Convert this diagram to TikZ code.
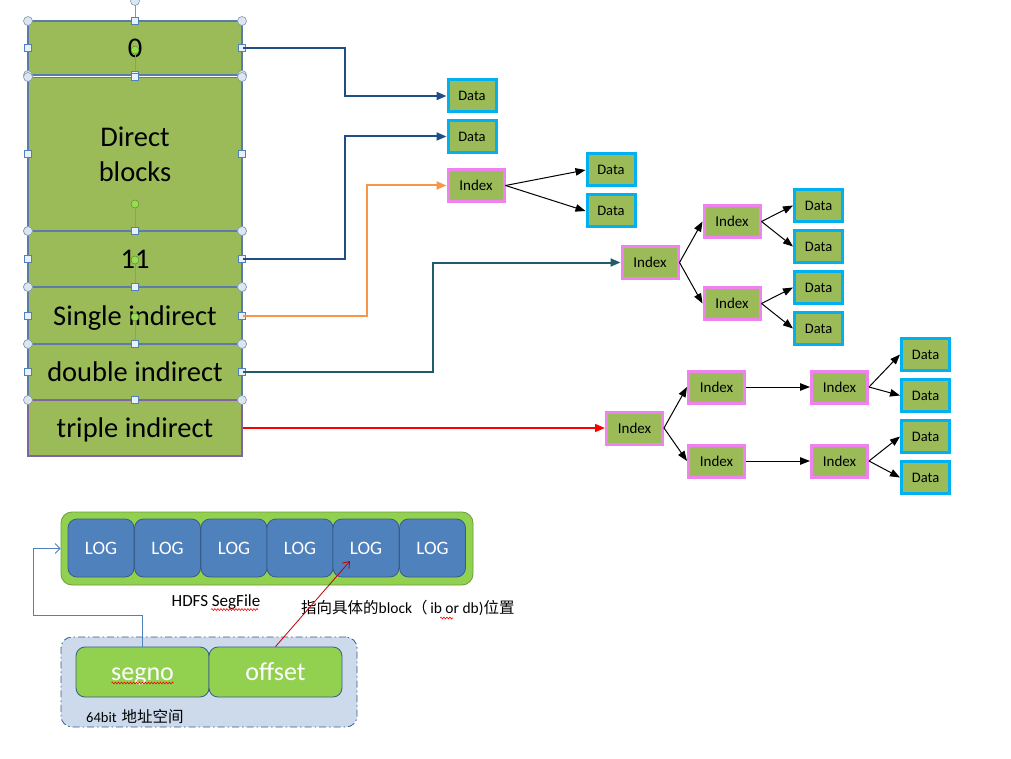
\documentclass[tikz,border=0pt]{standalone}
\usepackage{fontspec}
\setmainfont{Carlito}
\newfontfamily\cjk{Noto Sans CJK SC}
\usetikzlibrary{arrows.meta,decorations.pathmorphing}
\definecolor{cOlive}{HTML}{9BBB59}
\definecolor{cRowB}{HTML}{5B7BA9}
\definecolor{cPurple}{HTML}{8064A2}
\definecolor{cCyan}{HTML}{00B0F0}
\definecolor{cPink}{HTML}{EE82EE}
\definecolor{cDkBlue}{HTML}{1F4E87}
\definecolor{cTeal}{HTML}{215A69}
\definecolor{cOrange}{HTML}{F79646}
\definecolor{cLime}{HTML}{92D050}
\definecolor{cLogBlue}{HTML}{4F81BD}
\definecolor{cLogBorder}{HTML}{385D8A}
\definecolor{cPale}{HTML}{CCDAEC}
\definecolor{cDkRed}{HTML}{C00000}
\definecolor{cHdl}{HTML}{DCE6F2}
\definecolor{cHdlB}{HTML}{8497B0}
\definecolor{cGreenDot}{HTML}{8FE04A}
\begin{document}
\begin{tikzpicture}[x=1pt,y=-1pt,
  row/.style={draw=cRowB, line width=1.8pt, fill=cOlive, minimum width=214pt, inner sep=0pt,
    font=\fontsize{28.5}{35}\selectfont, align=center},
  rowtext/.style={text height=25pt, text depth=6pt},
  databox/.style={draw=cCyan, line width=3pt, fill=cOlive, minimum width=48pt, minimum height=32pt,
    inner sep=0pt, font=\fontsize{14.5}{16}\selectfont},
  idxbox/.style={databox, draw=cPink, minimum width=56pt, font=\fontsize{15}{16}\selectfont},
  arr/.style={-{Triangle[length=10pt,width=7.5pt]}, line width=1pt, black},
  conn/.style={-{Triangle[length=10pt,width=8pt]}, line width=2pt},
  logbox/.style={draw=cLogBorder, line width=0.8pt, fill=cLogBlue, rounded corners=9pt,
    minimum width=66pt, minimum height=58pt, inner sep=0pt, text=white, font=\fontsize{19}{22}\selectfont},
  fieldbox/.style={draw=cLogBorder, line width=0.8pt, fill=cLime, rounded corners=9pt,
    minimum width=133pt, minimum height=50pt, inner sep=0pt, text=white, font=\fontsize{26}{28}\selectfont,
    text height=20pt, text depth=4pt},
  squig/.style={draw=red, line width=0.6pt, decorate, decoration={snake, amplitude=0.9pt, segment length=3pt}},
  hc/.style={fill=cHdl, draw=cHdlB, line width=0.6pt},
  hs/.style={fill=cHdl!60!white, draw=cLogBlue, line width=0.6pt},
]
\useasboundingbox (0,0) rectangle (1011,759);
\fill[white] (0,0) rectangle (1011,759);

% ---- left stack ----
\node[row, rowtext, minimum height=54pt] (r0) at (135,48) {0};
\node[row, minimum height=154pt] (rdb) at (135,154.5) {Direct\\blocks};
\node[row, rowtext, minimum height=56pt] (r11) at (135,259) {11};
\node[row, rowtext, minimum height=57pt] (rsi) at (135,315.5) {Single indirect};
\node[row, rowtext, minimum height=56pt] (rdi) at (135,372) {double indirect};
\node[row, rowtext, draw=cPurple, minimum height=56pt] (rti) at (135,428) {triple indirect};

% ---- selection handles ----
\draw[cHdlB, line width=0.8pt] (135,21) -- (135,2);
\filldraw[hc] (135,1) circle (4.5pt);
\foreach \t/\b in {77/231, 231/287, 287/344, 344/400} {
  \draw[cHdlB, line width=0.8pt] (135,\t) -- (135,{\t-27});
  \filldraw[fill=cGreenDot, draw=cOlive!70!black, line width=0.5pt] (135,{\t-27}) circle (4pt);
}
\foreach \t/\b in {21/75, 77/231, 231/287, 287/344, 344/400} {
  \foreach \x in {28,242} {
    \filldraw[hc] (\x,\t) circle (4.5pt);
    \filldraw[hc] (\x,\b) circle (4.5pt);
    \filldraw[hs] ({\x-3.5},{(\t+\b)/2-3.5}) rectangle ++(7,7);
  }
  \filldraw[hs] (131.5,{\t-3.5}) rectangle ++(7,7);
  \filldraw[hs] (131.5,{\b-3.5}) rectangle ++(7,7);
}

% ---- direct / single ----
\node[databox] (d1) at (472,96) {Data};
\node[databox] (d2) at (472,136.5) {Data};
\node[idxbox] (i1) at (476,185.5) {Index};
\node[databox] (d3) at (611,170) {Data};
\node[databox] (d4) at (611,211) {Data};

% ---- double ----
\node[idxbox] (i2) at (650,262.5) {Index};
\node[idxbox] (i2a) at (732,221.5) {Index};
\node[idxbox] (i2b) at (732,303.5) {Index};
\node[databox] (d5) at (818.5,205.5) {Data};
\node[databox] (d6) at (818.5,246.5) {Data};
\node[databox] (d7) at (818.5,287.5) {Data};
\node[databox] (d8) at (818.5,328.5) {Data};

% ---- triple ----
\node[idxbox] (it) at (634.5,428) {Index};
\node[idxbox] (ita) at (716.5,387) {Index};
\node[idxbox] (itb) at (716.5,461) {Index};
\node[idxbox] (ita2) at (839.5,387) {Index};
\node[idxbox] (itb2) at (839.5,461) {Index};
\node[databox] (d9) at (925.5,354.5) {Data};
\node[databox] (d10) at (925.5,395.5) {Data};
\node[databox] (d11) at (925.5,436.5) {Data};
\node[databox] (d12) at (925.5,477.5) {Data};

% ---- connectors from stack ----
\draw[conn, cDkBlue] (r0.east) -- ++(102,0) |- (d1.west);
\draw[conn, cDkBlue] (r11.east) -- ++(102,0) |- (d2.west);
\draw[conn, cOrange] (rsi.east) -- ++(124,0) |- (i1.west);
\draw[conn, cTeal] (rdi.east) -- ++(190,0) |- (i2.west);
\draw[conn, red, line width=1.5pt] (rti.east) -- (it.west);

% ---- tree arrows ----
\draw[arr] (i1.east) -- (d3.west);
\draw[arr] (i1.east) -- (d4.west);
\draw[arr] (i2.east) -- (i2a.west);
\draw[arr] (i2.east) -- (i2b.west);
\draw[arr] (i2a.east) -- (d5.west);
\draw[arr] (i2a.east) -- (d6.west);
\draw[arr] (i2b.east) -- (d7.west);
\draw[arr] (i2b.east) -- (d8.west);
\draw[arr] (it.east) -- (ita.west);
\draw[arr] (it.east) -- (itb.west);
\draw[arr] (ita.east) -- (ita2.west);
\draw[arr] (itb.east) -- (itb2.west);
\draw[arr] (ita2.east) -- (d9.west);
\draw[arr] (ita2.east) -- (d10.west);
\draw[arr] (itb2.east) -- (d11.west);
\draw[arr] (itb2.east) -- (d12.west);

% ---- HDFS SegFile ----
\node[draw=cLime!75!black, line width=0.8pt, fill=cLime, rounded corners=11pt,
  minimum width=412pt, minimum height=73pt] (seg) at (267,548.5) {};
\node[logbox] (l1) at (101,548) {LOG};
\node[logbox] (l2) at (167.5,548) {LOG};
\node[logbox] (l3) at (234,548) {LOG};
\node[logbox] (l4) at (300,548) {LOG};
\node[logbox] (l5) at (366,548) {LOG};
\node[logbox] (l6) at (432.5,548) {LOG};
\node[inner sep=0pt, font=\fontsize{17}{19}\selectfont] (segfile) at (216,602) {HDFS SegFile};
\draw[squig] ([shift={(-5,7.5)}]segfile.center) -- ++(47,0);
\node[anchor=west, inner sep=0pt, font=\fontsize{15.5}{18}\selectfont] (note) at (301,608)
  {{\cjk 指向具体的}block{\cjk （}\,ib or db){\cjk 位置}};
\draw[squig] ([shift={(139,10)}]note.west) -- ++(13,0);

% ---- 64bit address ----
\node[draw=cLogBorder, line width=0.8pt, fill=cPale, rounded corners=11pt,
  dash pattern=on 7pt off 3pt on 1.5pt off 3pt,
  minimum width=296pt, minimum height=90pt] (addr) at (209,682) {};
\node[fieldbox] (segno) at (142.5,672) {segno};
\node[fieldbox] (offset) at (275.5,672) {offset};
\draw[squig] ([shift={(-31,11)}]segno.center) -- ++(62,0);
\node[anchor=west, inner sep=0pt, font=\fontsize{14.5}{16}\selectfont] (addrlab) at (86,717)
  {64bit\hspace{5pt}{\cjk\fontsize{15.5}{16}\selectfont 地址空间}};

% ---- pointers ----
\draw[cLogBlue, line width=0.8pt, -{Straight Barb[length=5pt,width=10pt]}]
  (segno.north) -- ++(0,-31) -| ([xshift=-27pt]seg.west) -- (seg.west);
\draw[cDkRed, line width=0.8pt, -{Straight Barb[length=6pt,width=9pt]}]
  (offset.north) -- ([shift={(-16,13)}]l5.center);
\end{tikzpicture}
\end{document}
